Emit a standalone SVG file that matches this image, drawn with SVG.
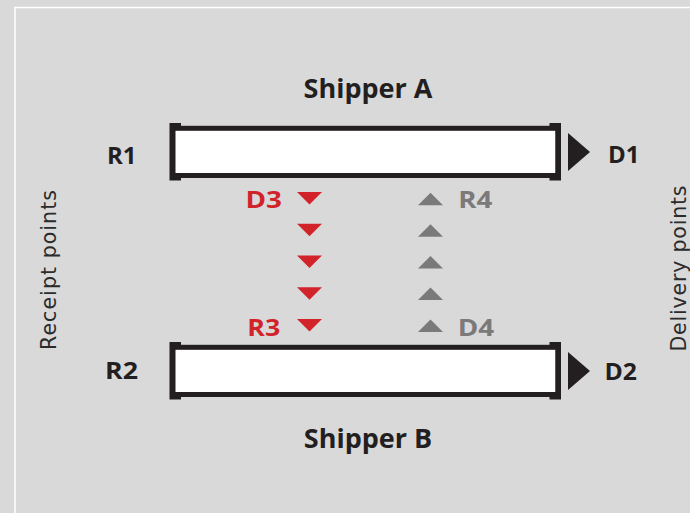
<svg xmlns="http://www.w3.org/2000/svg" width="690" height="513" viewBox="0 0 690 513">
<style>
.bg{fill:#d9d9d9}
.frame{fill:none;stroke:#ffffff;stroke-width:1.5}
.pipe{fill:#ffffff;stroke:#231f20;stroke-width:5}
.cap{fill:#231f20}
.lbl{font-family:"Open Sans","Liberation Sans",sans-serif;font-weight:700;fill:#231f20}
.big{font-size:27px}
.mid{font-size:24px}
.red{fill:#d2232a}
.gray{fill:#7b7979}
.side{font-family:"DejaVu Sans","Liberation Sans",sans-serif;font-size:20.5px;fill:#2b2b2b}
</style>
<rect class="bg" x="0" y="0" width="690" height="513"/>
<rect class="frame" x="15" y="7.5" width="700" height="520"/>

<g id="shipperA">
  <text class="lbl big" x="368" y="97.5" text-anchor="middle">Shipper A</text>
</g>
<g id="pipe1">
  <rect class="pipe" x="173" y="128.3" width="385" height="47.2"/>
  <polygon class="cap" points="169.5,123 181,123 181,128 175,128 175,175.5 181,175.5 181,180.5 169.5,180.5"/>
  <polygon class="cap" points="561,123 549.5,123 549.5,128 555.5,128 555.5,175.5 549.5,175.5 549.5,180.5 561,180.5"/>
  <polygon class="cap" points="568,133 590,152 568,171"/>
</g>
<g id="R1"><text class="lbl mid" x="107" y="163.5">R1</text></g>
<g id="D1"><text class="lbl mid" x="608" y="163">D1</text></g>

<g id="pipe2">
  <rect class="pipe" x="173" y="347.3" width="385" height="47.2"/>
  <polygon class="cap" points="169.5,342 181,342 181,347 175,347 175,394.5 181,394.5 181,399.5 169.5,399.5"/>
  <polygon class="cap" points="561,342 549.5,342 549.5,347 555.5,347 555.5,394.5 549.5,394.5 549.5,399.5 561,399.5"/>
  <polygon class="cap" points="568,352 590,371 568,390"/>
</g>
<g id="R2"><text class="lbl mid" x="105" y="378.5" textLength="33" lengthAdjust="spacingAndGlyphs">R2</text></g>
<g id="D2"><text class="lbl mid" x="604.5" y="379.5" textLength="32.5" lengthAdjust="spacingAndGlyphs">D2</text></g>
<g id="shipperB">
  <text class="lbl big" x="368" y="448.3" text-anchor="middle">Shipper B</text>
</g>

<g id="D3"><text class="lbl mid red" x="245.5" y="207.7" textLength="36.5" lengthAdjust="spacingAndGlyphs">D3</text></g>
<g id="R3"><text class="lbl mid red" x="247.3" y="336" textLength="33" lengthAdjust="spacingAndGlyphs">R3</text></g>
<g id="R4"><text class="lbl mid gray" x="458.3" y="207.5" textLength="34" lengthAdjust="spacingAndGlyphs">R4</text></g>
<g id="D4"><text class="lbl mid gray" x="457.7" y="336" textLength="36.5" lengthAdjust="spacingAndGlyphs">D4</text></g>

<g id="connectors">
  <g class="red">
    <polygon points="297,192 322,192 309.5,204.5"/>
    <polygon points="297,223.8 322,223.8 309.5,236.3"/>
    <polygon points="297,255.5 322,255.5 309.5,268"/>
    <polygon points="297,287.2 322,287.2 309.5,299.7"/>
    <polygon points="297,319 322,319 309.5,331.5"/>
  </g>
  <g class="gray">
    <polygon points="418,205.2 443,205.2 430.5,192.7"/>
    <polygon points="418,236.8 443,236.8 430.5,224.3"/>
    <polygon points="418,268.5 443,268.5 430.5,256"/>
    <polygon points="418,300 443,300 430.5,287.5"/>
    <polygon points="418,332 443,332 430.5,319.5"/>
  </g>
</g>

<g id="receiptPoints">
  <text class="side" transform="translate(56,270) rotate(-90)" text-anchor="middle" textLength="160" lengthAdjust="spacing">Receipt points</text>
</g>
<g id="deliveryPoints">
  <text class="side" transform="translate(685.5,268.5) rotate(-90)" text-anchor="middle" textLength="166" lengthAdjust="spacing">Delivery points</text>
</g>
</svg>
